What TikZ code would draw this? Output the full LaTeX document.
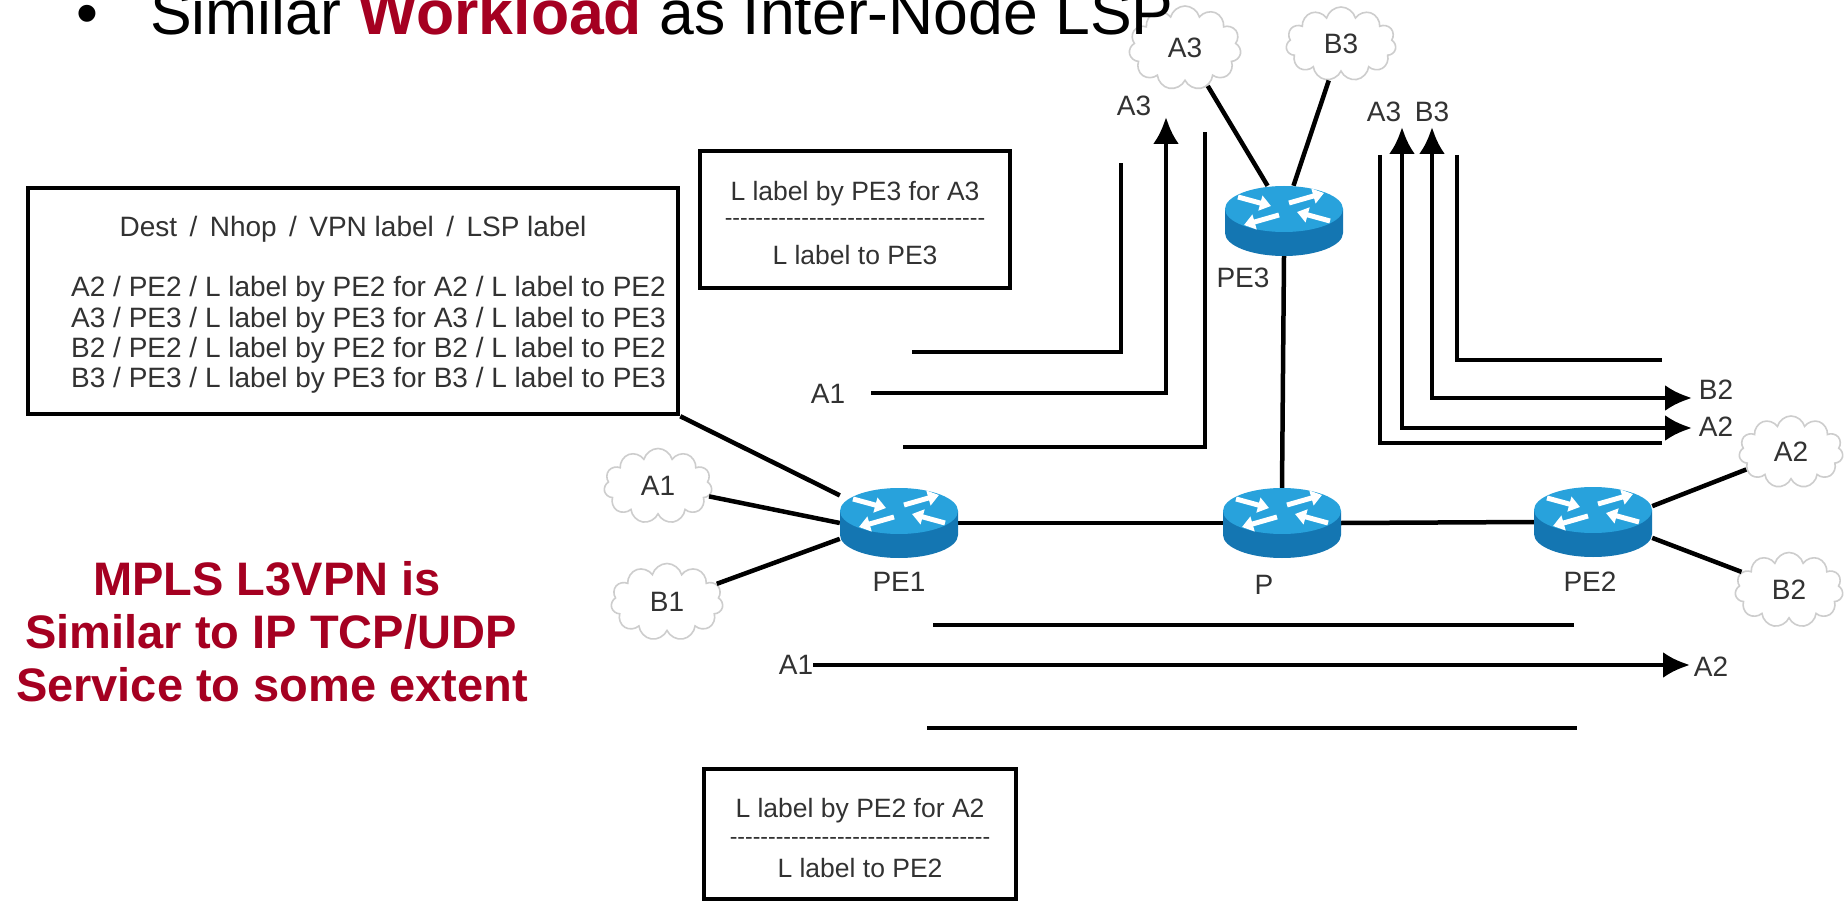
\documentclass[tikz,border=0pt]{standalone}
\usepackage{fontspec}
\setmainfont{Liberation Sans}
\usetikzlibrary{shapes.symbols,arrows.meta}
\definecolor{wred}{RGB}{165,0,33}
\definecolor{lblgray}{RGB}{50,50,50}
\definecolor{rtop}{RGB}{40,162,220}
\definecolor{rside}{RGB}{20,118,178}
\definecolor{cloudgray}{RGB}{205,205,205}
\newcommand\hyrow{-{}-{}-{}-{}-{}-{}-{}-{}-{}-{}-{}-{}-{}-{}-{}-{}-{}-{}-{}-{}-{}-{}-{}-{}-{}-{}-{}-{}-{}-{}-{}-{}-{}-{}}
\tikzset{
  router/.pic={
    \fill[rside] (-59,-12) -- (-59,12) arc[start angle=180,end angle=360,x radius=59pt,y radius=23pt] -- (59,-12) -- cycle;
    \fill[rtop] (0,-12) ellipse[x radius=59pt,y radius=23pt];
    \begin{scope}[white, line width=5pt, -{Triangle[length=11pt,width=15pt]}]
      \draw (-46,-24) -- (-13,-15);
      \draw (46,0) -- (13,-9);
      \draw (5,-18) -- (40,-28);
      \draw (-5,-6) -- (-40,4);
    \end{scope}
  }
}
\begin{document}
\begin{tikzpicture}[x=1pt,y=-1pt,
  blk/.style={line width=4.5pt, draw=black},
  arrhead/.style={-{Latex[length=27pt,width=26pt]}},
  dblhead/.style={{Latex[length=27pt,width=26pt]}-{Latex[length=27pt,width=26pt]}},
  conn/.style={line width=4.5pt, draw=black},
  boxframe/.style={draw=black, line width=4.5pt, inner sep=0pt},
  bigtxt/.style={font=\fontsize{28}{30}\selectfont, text=lblgray, inner sep=0pt},
  smtxt/.style={font=\fontsize{26.5}{28}\selectfont, text=lblgray, inner sep=0pt},
  dashtxt/.style={font=\fontsize{23}{24}\selectfont, text=lblgray, inner sep=0pt},
  lbl/.style={font=\fontsize{28}{30}\selectfont, text=lblgray, inner sep=0pt},
  cloudst/.style={cloud, cloud puffs=11, draw=cloudgray, line width=1.6pt, fill=white, inner sep=0pt, font=\fontsize{28}{30}\selectfont, text=lblgray},
  rt/.style={inner sep=0pt, minimum width=118pt, minimum height=70pt},
  redtxt/.style={font=\bfseries\fontsize{47}{53}\selectfont, text=wred, inner sep=0pt},
  headtxt/.style={font=\fontsize{62.5}{68}\selectfont, inner sep=0pt}
]
\useasboundingbox (0,0) rectangle (1845,901);
\clip (0,0) rectangle (1845,901);
\fill[white] (0,0) rectangle (1845,901);

% big table box
\node[boxframe, minimum width=650pt, minimum height=226pt] (bigbox) at (353,301) {};
\node[bigtxt, anchor=base] (bh) at (353,237) {Dest \,/\, Nhop \,/\, VPN label \,/\, LSP label};
\node[bigtxt, anchor=base west] (r1) at (71,297) {A2 / PE2 / L label by PE2 for A2 / L label to PE2};
\node[bigtxt, anchor=base west] (r2) at (71,327) {A3 / PE3 / L label by PE3 for A3 / L label to PE3};
\node[bigtxt, anchor=base west] (r3) at (71,357) {B2 / PE2 / L label by PE2 for B2 / L label to PE2};
\node[bigtxt, anchor=base west] (r4) at (71,387) {B3 / PE3 / L label by PE3 for B3 / L label to PE3};

% PE3 label box
\node[boxframe, minimum width=310pt, minimum height=137pt] (pe3box) at (855,219.5) {};
\node[smtxt, anchor=base] (p3t1) at (855,201) {L label by PE3 for A3};
\node[dashtxt] (p3d) at (855,222) {\hyrow};
\node[smtxt, anchor=base] (p3t2) at (855,265) {L label to PE3};

% PE2 label box
\node[boxframe, minimum width=312pt, minimum height=130pt] (pe2box) at (860,834) {};
\node[smtxt, anchor=base] (p2t1) at (860,817) {L label by PE2 for A2};
\node[dashtxt] (p2d) at (860,841) {\hyrow};
\node[smtxt, anchor=base] (p2t2) at (860,877) {L label to PE2};

% red remark
\node[redtxt, anchor=base] (m1) at (267,595) {MPLS L3VPN is};
\node[redtxt, anchor=base] (m2) at (271,648) {Similar to IP TCP/UDP};
\node[redtxt, anchor=base] (m3) at (272,701) {Service to some extent};

% routers (anchors)
\node[rt] (PE1) at (899,523) {};
\node[rt] (P) at (1282,523) {};
\node[rt] (PE2) at (1593,522) {};
\node[rt] (PE3) at (1284,221) {};

% clouds
\node[cloudst, minimum width=108pt, minimum height=75pt] (cA1) at (658,486) {A1};
\node[cloudst, minimum width=112pt, minimum height=77pt] (cB1) at (667,602) {B1};
\node[cloudst, minimum width=104pt, minimum height=72pt] (cA2) at (1791,452) {A2};
\node[cloudst, minimum width=108pt, minimum height=75pt] (cB2) at (1789,590) {B2};
\node[cloudst, minimum width=112pt, minimum height=84pt] (cA3) at (1185,48) {A3};
\node[cloudst, minimum width=110pt, minimum height=74pt] (cB3) at (1341,44) {B3};

% links
\draw[conn] (PE1.east) -- (P.west);
\draw[conn] (P.east) -- (PE2.west);
\draw[conn] (PE3.south) -- (P.north);
\draw[conn] (bigbox.south east) -- (PE1.155);
\draw[conn] (cA1) -- (PE1.west);
\draw[conn] (cB1) -- (PE1.-165);
\draw[conn] (cA2) -- (PE2.15);
\draw[conn] (cB2) -- (PE2.-15);
\draw[conn] (cA3) -- (PE3.115);
\draw[conn] (cB3) -- (PE3.75);

% router icons
\pic at (PE1) {router};
\pic at (P) {router};
\pic at (PE2) {router};
\pic at (PE3) {router};
\node[lbl] (lPE1) at (899,582) {PE1};
\node[lbl] (lP) at (1264,585) {P};
\node[lbl] (lPE2) at (1590,582) {PE2};
\node[lbl] (lPE3) at (1243,278) {PE3};

% upper-left label stack (towards PE3)
\coordinate (u1a) at (912,352); \coordinate (u1b) at (1121,163);
\draw[blk] (u1a) -| (u1b);
\node[lbl] (ua1) at (828,394) {A1};
\coordinate (u2a) at (871,393); \coordinate (u2b) at (1166,117);
\draw[blk, arrhead] (u2a) -| (u2b);
\node[lbl] (ua3) at (1134,106) {A3};
\coordinate (u3a) at (903,447); \coordinate (u3b) at (1205,132);
\draw[blk] (u3a) -| (u3b);

% upper-right label stack (PE3 to PE2)
\coordinate (r1a) at (1380,155); \coordinate (r1b) at (1662,443);
\draw[blk] (r1a) |- (r1b);
\coordinate (r2a) at (1402,127); \coordinate (r2b) at (1692,428);
\draw[blk, dblhead] (r2a) |- (r2b);
\coordinate (r3a) at (1432,127); \coordinate (r3b) at (1692,398);
\draw[blk, dblhead] (r3a) |- (r3b);
\coordinate (r4a) at (1457,155); \coordinate (r4b) at (1662,360);
\draw[blk] (r4a) |- (r4b);
\node[lbl] (ra3) at (1384,112) {A3};
\node[lbl] (rb3) at (1432,112) {B3};
\node[lbl] (rb2) at (1716,390) {B2};
\node[lbl] (ra2) at (1716,427) {A2};

% bottom label stack (PE1 to PE2)
\coordinate (b1a) at (933,625); \coordinate (b1b) at (1574,625);
\draw[blk] (b1a) -- (b1b);
\node[lbl] (ba1) at (796,665) {A1};
\node[lbl] (ba2) at (1711,667) {A2};
\coordinate (b2a) at (813,665); \coordinate (b2b) at (1690,665);
\draw[blk, arrhead] (b2a) -- (b2b);
\coordinate (b3a) at (927,728); \coordinate (b3b) at (1577,728);
\draw[blk] (b3a) -- (b3b);

% heading (on top, cut at the top edge as in the slide)
\node[headtxt, anchor=base] (bul) at (87,35) {•};
\node[headtxt, anchor=base west] (head) at (150,35) {Similar \textcolor{wred}{\bfseries Workload} as Inter-Node LSP};
\end{tikzpicture}
\end{document}
